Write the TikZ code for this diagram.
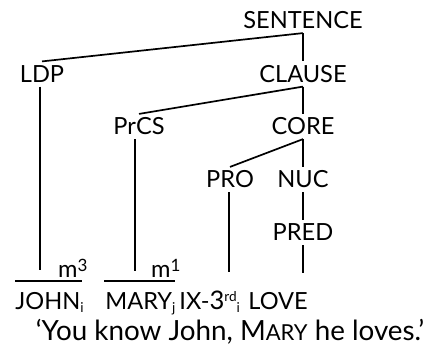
\documentclass[tikz,border=0pt]{standalone}
\usepackage{fontspec}
\setmainfont{Lato}
\newcommand{\supx}[1]{\raisebox{3.6pt}{\fontsize{6.8}{8}\selectfont #1}}
\newcommand{\subx}[1]{\raisebox{-1.6pt}{\fontsize{6.8}{8}\selectfont #1}}
\newcommand{\supm}[1]{\raisebox{2.6pt}{\fontsize{8.5}{9}\selectfont #1}}
\begin{document}
\begin{tikzpicture}[x=0.5pt,y=-0.5pt,
  every node/.style={font=\fontsize{11.8}{14}\selectfont},
  lab/.style={inner sep=2pt, text height=8.2pt, text depth=0pt},
  word/.style={anchor=base west, inner sep=0pt},
  edge/.style={line width=0.85pt}]
\useasboundingbox (0,0) rectangle (431,349);
% tree nodes
\node[lab] (S) at (303,20.5) {SENTENCE};
\node[lab] (LDP) at (42,74) {LDP};
\node[lab] (CL) at (303,74) {CLAUSE};
\node[lab] (PrCS) at (139,126.5) {PrCS};
\node[lab] (CORE) at (303,126.5) {CORE};
\node[lab] (PRO) at (230,179.5) {PRO};
\node[lab] (NUC) at (303,179.5) {NUC};
\node[lab] (PRED) at (303,232.5) {PRED};
% m labels with underlines
\node[anchor=base east, inner sep=0pt] (m3) at (78,277) {m\rlap{\supm{3}}};
\node[anchor=base east, inner sep=0pt] (m1) at (171,277) {m\rlap{\supm{1}}};
\coordinate (u3a) at (15,281); \coordinate (u3b) at (82,281);
\coordinate (u1a) at (104,281); \coordinate (u1b) at (175,281);
\draw[edge] (u3a) -- (u3b);
\draw[edge] (u1a) -- (u1b);
% words
\node[word] (john) at (15,309) {JOHN\subx{i}};
\node[word] (mary) at (105,309) {MARY\subx{j}};
\node[word] (ix) at (179,309) {IX-{\fontsize{12.8}{14}\selectfont 3}\supx{rd}\subx{i}};
\node[word] (love) at (248,309) {LOVE};
\node[anchor=base, inner sep=0pt, font=\fontsize{13.9}{16}\selectfont] (tr) at (230,340) {‘You know John, M{\fontsize{11}{12}\selectfont ARY} he loves.’};
% connectors
\draw[edge] (S.south) -- (LDP.north);
\draw[edge] (S.south) -- (CL.north);
\draw[edge] (CL.south) -- (PrCS.north);
\draw[edge] (CL.south) -- (CORE.north);
\draw[edge] (CORE.south) -- (PRO.north);
\draw[edge] (CORE.south) -- (NUC.north);
\draw[edge] (NUC.south) -- (PRED.north);
\coordinate (eLDP) at (40,270);
\coordinate (ePrCS) at (135,271);
\coordinate (ePRO) at (229,272);
\coordinate (ePRED) at (303,273);
\draw[edge] (LDP.south -| eLDP) -- (eLDP);
\draw[edge] (PrCS.south -| ePrCS) -- (ePrCS);
\draw[edge] (PRO.south -| ePRO) -- (ePRO);
\draw[edge] (PRED.south) -- (ePRED);
\end{tikzpicture}
\end{document}
